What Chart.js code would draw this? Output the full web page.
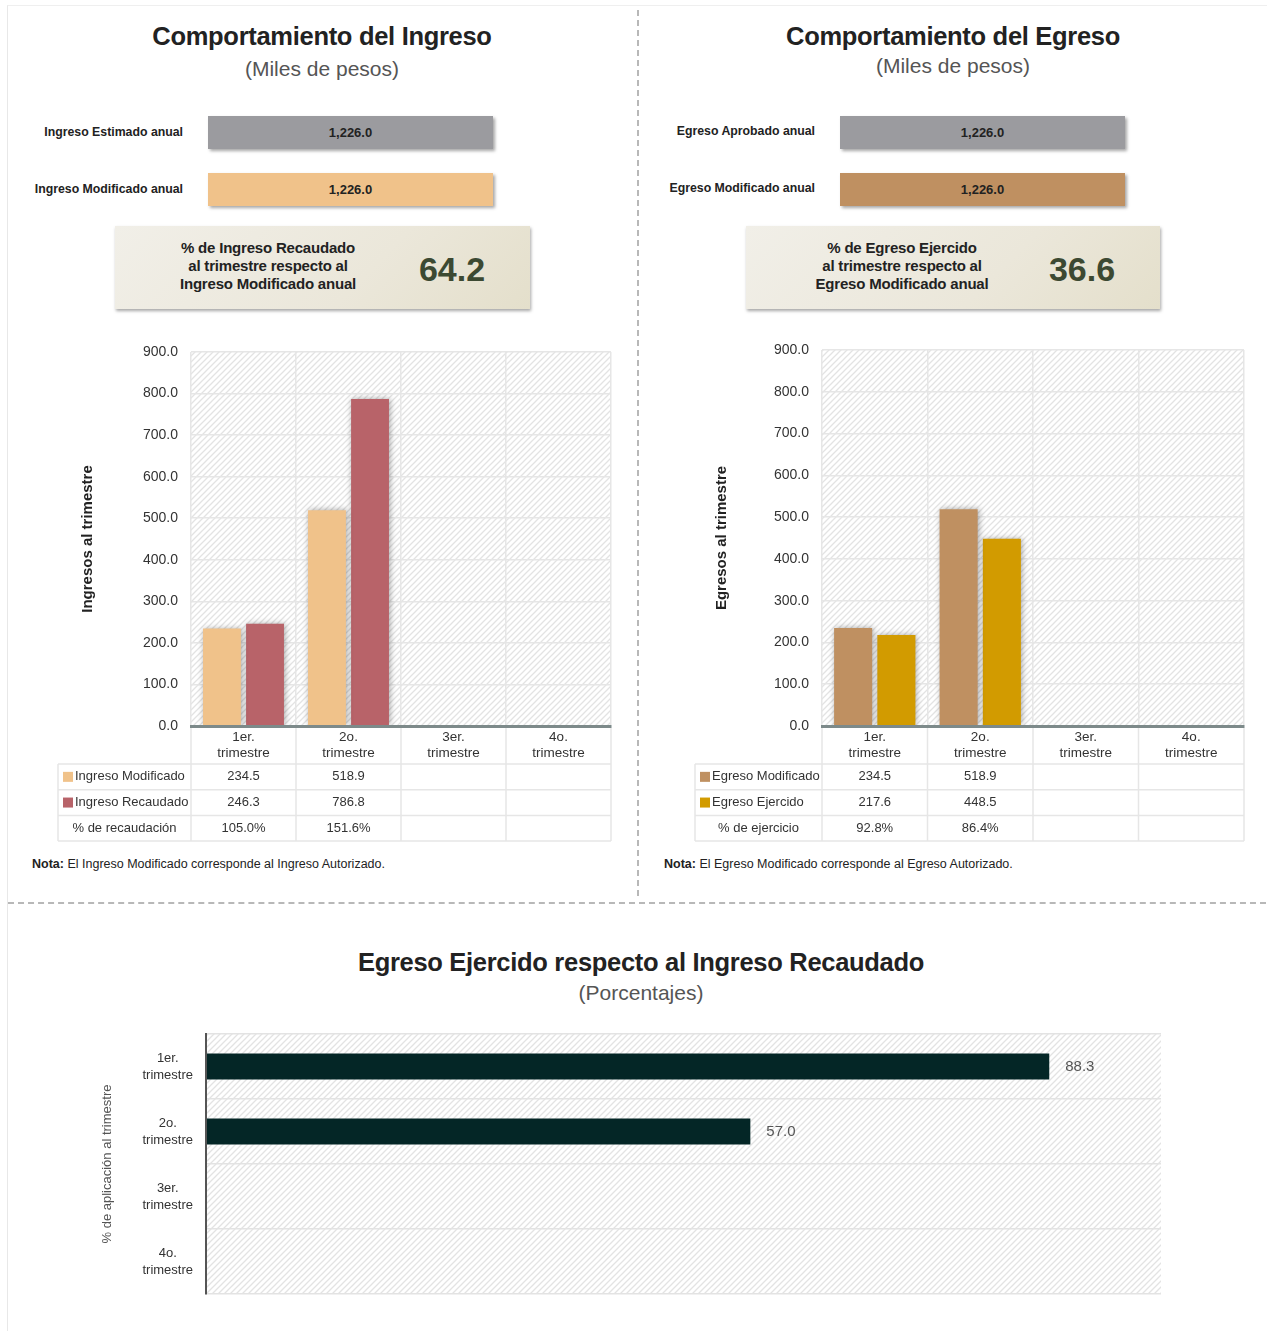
<!DOCTYPE html>
<html lang="es">
<head>
<meta charset="utf-8">
<title>Comportamiento del Ingreso y del Egreso</title>
<script src="https://cdn.jsdelivr.net/npm/chart.js@4.4.1/dist/chart.umd.min.js"></script>
<style>
    body { margin: 0; background: #fff; font-family: "Liberation Sans", Arial, sans-serif; color: #222; }
    #page { position: relative; width: 1267px; height: 1331px; overflow: hidden; }
    .card { position: absolute; left: 7px; top: 5px; width: 1262px; height: 1330px; border-left: 1px solid #e8e8e8; border-top: 1px solid #efefef; }
    .vdash { position: absolute; left: 637px; top: 10px; height: 886px; border-left: 2px dashed #b8b8b8; }
    .hdash { position: absolute; left: 8px; top: 902px; width: 1258px; border-top: 2px dashed #b8b8b8; }
    .abs { position: absolute; white-space: nowrap; }
    .title { width: 600px; text-align: center; font-weight: bold; font-size: 25.5px; line-height: 30px; color: #222; letter-spacing: -0.3px; }
    .subtitle { width: 600px; text-align: center; font-size: 21px; line-height: 24px; color: #555; }
    .annual-label { text-align: right; font-weight: bold; font-size: 12.3px; line-height: 20px; color: #222; }
    .annual-bar { height: 33px; width: 285px; line-height: 33px; text-align: center; font-weight: bold; font-size: 13px; color: #222; box-shadow: 2px 2px 3px rgba(0, 0, 0, 0.35); }
    .kpi { height: 83px; background: linear-gradient(135deg, #f1efe8 0%, #ebe7da 60%, #e4dfcb 100%); box-shadow: 1px 2px 3px rgba(0, 0, 0, 0.35); }
    .kpi-text { width: 220px; text-align: center; font-weight: bold; font-size: 15px; line-height: 18px; color: #222; letter-spacing: -0.2px; }
    .kpi-num { width: 140px; text-align: center; font-weight: bold; font-size: 34px; line-height: 40px; color: #3c4932; }
    .nota { font-size: 12.5px; line-height: 16px; color: #222; }
    .chart-box { position: absolute; }
</style>
</head>
<body>
<div id="page">
    <div class="card"></div>
    <div class="vdash"></div>
    <div class="hdash"></div>

    <div class="abs title" style="left:22px; top:21px;">Comportamiento del Ingreso</div>
    <div class="abs subtitle" style="left:22px; top:57px;">(Miles de pesos)</div>
    <div class="abs annual-label" style="left:0; width:183px; top:122px;">Ingreso Estimado anual</div>
    <div class="abs annual-label" style="left:0; width:183px; top:179px;">Ingreso Modificado anual</div>
    <div class="abs annual-bar" id="ing-est" style="left:208px; top:116px; background:#9b9b9f;"></div>
    <div class="abs annual-bar" id="ing-mod" style="left:208px; top:173px; background:#f0c28a;"></div>
    <div class="abs kpi" style="left:115px; top:226px; width:415px;"></div>
    <div class="abs kpi-text" style="left:158px; top:239px;">% de Ingreso Recaudado<br>al trimestre respecto al<br>Ingreso Modificado anual</div>
    <div class="abs kpi-num" id="ing-kpi" style="left:382px; top:249px;"></div>

    <div class="abs title" style="left:653px; top:21px;">Comportamiento del Egreso</div>
    <div class="abs subtitle" style="left:653px; top:54px;">(Miles de pesos)</div>
    <div class="abs annual-label" style="left:630px; width:185px; top:121px;">Egreso Aprobado anual</div>
    <div class="abs annual-label" style="left:630px; width:185px; top:178px;">Egreso Modificado anual</div>
    <div class="abs annual-bar" id="egr-apr" style="left:840px; top:116px; background:#9b9b9f;"></div>
    <div class="abs annual-bar" id="egr-mod" style="left:840px; top:173px; background:#bf9061;"></div>
    <div class="abs kpi" style="left:746px; top:226px; width:414px;"></div>
    <div class="abs kpi-text" style="left:792px; top:239px;">% de Egreso Ejercido<br>al trimestre respecto al<br>Egreso Modificado anual</div>
    <div class="abs kpi-num" id="egr-kpi" style="left:1012px; top:249px;"></div>

    <div class="chart-box" style="left:50px; top:335px;"><canvas id="ingresos-chart" width="570" height="515"></canvas></div>
    <div class="chart-box" style="left:682px; top:335px;"><canvas id="egresos-chart" width="570" height="515"></canvas></div>

    <div class="abs nota" style="left:32px; top:856px;"><b>Nota:</b> El Ingreso Modificado corresponde al Ingreso Autorizado.</div>
    <div class="abs nota" style="left:664px; top:856px;"><b>Nota:</b> El Egreso Modificado corresponde al Egreso Autorizado.</div>

    <div class="abs title" style="left:341px; top:947px;">Egreso Ejercido respecto al Ingreso Recaudado</div>
    <div class="abs subtitle" style="left:341px; top:981px;">(Porcentajes)</div>
    <div class="chart-box" style="left:90px; top:1020px;"><canvas id="aplicacion-chart" width="1120" height="290"></canvas></div>
</div>

<script>
const quarters = [['1er.', 'trimestre'], ['2o.', 'trimestre'], ['3er.', 'trimestre'], ['4o.', 'trimestre']];
const yTicks = [0, 100, 200, 300, 400, 500, 600, 700, 800, 900];

const ingresoEstimadoAnual = 1226.0;
const ingresoModificadoAnual = 1226.0;
const ingresoKpi = 64.2;
const ingresoModificado = [234.5, 518.9, null, null];
const ingresoRecaudado = [246.3, 786.8, null, null];
const pctRecaudacion = [105.0, 151.6, null, null];

const egresoAprobadoAnual = 1226.0;
const egresoModificadoAnual = 1226.0;
const egresoKpi = 36.6;
const egresoModificado = [234.5, 518.9, null, null];
const egresoEjercido = [217.6, 448.5, null, null];
const pctEjercicio = [92.8, 86.4, null, null];

const pctAplicacion = [88.3, 57.0, null, null];

const FONT = "'Liberation Sans', Arial, sans-serif";
const fmtMiles = v => v.toLocaleString('en-US', { minimumFractionDigits: 1, maximumFractionDigits: 1 });

document.getElementById('ing-est').textContent = fmtMiles(ingresoEstimadoAnual);
document.getElementById('ing-mod').textContent = fmtMiles(ingresoModificadoAnual);
document.getElementById('ing-kpi').textContent = ingresoKpi.toFixed(1);
document.getElementById('egr-apr').textContent = fmtMiles(egresoAprobadoAnual);
document.getElementById('egr-mod').textContent = fmtMiles(egresoModificadoAnual);
document.getElementById('egr-kpi').textContent = egresoKpi.toFixed(1);

// diagonal hatch behind the plot area
const hatchTile = (() => {
    const c = document.createElement('canvas');
    c.width = 6;
    c.height = 6;
    const g = c.getContext('2d');
    g.fillStyle = '#fff';
    g.fillRect(0, 0, 6, 6);
    g.strokeStyle = '#e3e3e3';
    g.lineWidth = 1.3;
    g.beginPath();
    g.moveTo(0, 6); g.lineTo(6, 0);
    g.moveTo(-1, 1); g.lineTo(1, -1);
    g.moveTo(5, 7); g.lineTo(7, 5);
    g.stroke();
    return c;
})();

const hatchPlugin = {
    id: 'hatch',
    beforeDraw(chart) {
        const { ctx, chartArea: a } = chart;
        ctx.save();
        ctx.fillStyle = ctx.createPattern(hatchTile, 'repeat');
        ctx.fillRect(a.left, a.top, a.right - a.left, a.bottom - a.top);
        ctx.restore();
    }
};

const barShadow = {
    id: 'barShadow',
    beforeDatasetsDraw(chart) {
        const ctx = chart.ctx;
        ctx.save();
        ctx.shadowColor = 'rgba(0, 0, 0, 0.35)';
        ctx.shadowBlur = 6;
        ctx.shadowOffsetX = 1;
        ctx.shadowOffsetY = 0;
    },
    afterDatasetsDraw(chart) {
        chart.ctx.restore();
    }
};

// table under the category axis, aligned with the x scale
const dataTable = {
    id: 'dataTable',
    afterDraw(chart, args, opts) {
        const { ctx, chartArea: a, scales: { x } } = chart;
        const n = chart.data.labels.length;
        const step = x.getPixelForValue(1) - x.getPixelForValue(0);
        const top = a.bottom + opts.labelHeight;
        const bottom = top + opts.rows.length * opts.rowHeight;
        const left = opts.left;

        ctx.save();
        ctx.strokeStyle = '#e6e6e6';
        ctx.lineWidth = 1.5;
        ctx.beginPath();
        for (let r = 0; r <= opts.rows.length; r++) {
            const y = top + r * opts.rowHeight;
            ctx.moveTo(left, y);
            ctx.lineTo(a.right, y);
        }
        ctx.moveTo(left, top);
        ctx.lineTo(left, bottom);
        for (let i = 0; i <= n; i++) {
            const xx = x.getPixelForValue(0) - step / 2 + i * step;
            ctx.moveTo(xx, a.bottom + 2);
            ctx.lineTo(xx, bottom);
        }
        ctx.stroke();

        ctx.font = '13px ' + FONT;
        ctx.textBaseline = 'middle';
        opts.rows.forEach((row, r) => {
            const cy = top + r * opts.rowHeight + opts.rowHeight / 2;
            if (row.color) {
                ctx.fillStyle = row.color;
                ctx.fillRect(left + 5, cy - 5, 10, 10);
                ctx.fillStyle = '#333';
                ctx.textAlign = 'left';
                ctx.fillText(row.label, left + 17, cy);
            } else {
                ctx.fillStyle = '#333';
                ctx.textAlign = 'center';
                ctx.fillText(row.label, (left + a.left) / 2, cy);
            }
            ctx.textAlign = 'center';
            row.values.forEach((v, i) => {
                if (v == null) return;
                ctx.fillText(row.fmt(v), x.getPixelForValue(i), cy);
            });
        });
        ctx.restore();
    }
};

const quarterChart = (id, cfg) => {
    const canvas = document.getElementById(id);
    return new Chart(canvas, {
        type: 'bar',
        data: {
            labels: quarters,
            datasets: cfg.series.map(s => ({
                label: s.label,
                data: s.data,
                backgroundColor: s.color,
                borderWidth: 0,
                categoryPercentage: 0.82,
                barPercentage: 0.88
            }))
        },
        options: {
            responsive: false,
            animation: false,
            layout: { padding: cfg.padding },
            scales: {
                x: {
                    grid: { color: '#e6e6e6', lineWidth: 1.5, offset: true, drawTicks: false },
                    border: { display: true, color: '#7d8a8a', width: 3, z: 1 },
                    ticks: { color: '#333', padding: 3, font: { family: FONT, size: 13.5, lineHeight: 1.2 }, maxRotation: 0 },
                    afterFit: s => { s.height = 38; }
                },
                y: {
                    min: 0,
                    max: 900,
                    afterBuildTicks: s => { s.ticks = yTicks.map(v => ({ value: v })); },
                    grid: { color: '#e6e6e6', lineWidth: 1.5, drawTicks: false },
                    border: { display: false },
                    ticks: { color: '#333', padding: 13, font: { family: FONT, size: 14 }, callback: v => v.toFixed(1) },
                    title: { display: true, text: cfg.yTitle, color: '#222', font: { family: FONT, size: 15, weight: 'bold' }, padding: { top: 4, bottom: 4 } },
                    afterFit: s => {
                        s.width = cfg.yWidth;
                        s.paddingTop = 0;
                        s.paddingBottom = 0;
                    }
                }
            },
            plugins: {
                legend: { display: false },
                tooltip: { enabled: false },
                dataTable: {
                    left: cfg.tableLeft,
                    labelHeight: 38,
                    rowHeight: 25.7,
                    rows: cfg.rows
                }
            }
        },
        plugins: [hatchPlugin, barShadow, dataTable]
    });
};

quarterChart('ingresos-chart', {
    yTitle: 'Ingresos al trimestre',
    yWidth: 116,
    tableLeft: 8,
    padding: { left: 25, right: 9, top: 17, bottom: 86 },
    series: [
        { label: 'Ingreso Modificado', data: ingresoModificado, color: '#f0c28a' },
        { label: 'Ingreso Recaudado', data: ingresoRecaudado, color: '#b86369' }
    ],
    rows: [
        { label: 'Ingreso Modificado', color: '#f0c28a', values: ingresoModificado, fmt: v => v.toFixed(1) },
        { label: 'Ingreso Recaudado', color: '#b86369', values: ingresoRecaudado, fmt: v => v.toFixed(1) },
        { label: '% de recaudación', color: null, values: pctRecaudacion, fmt: v => v.toFixed(1) + '%' }
    ]
});

quarterChart('egresos-chart', {
    yTitle: 'Egresos al trimestre',
    yWidth: 113,
    tableLeft: 13,
    padding: { left: 27, right: 8, top: 15, bottom: 86 },
    series: [
        { label: 'Egreso Modificado', data: egresoModificado, color: '#bf9061' },
        { label: 'Egreso Ejercido', data: egresoEjercido, color: '#d29b00' }
    ],
    rows: [
        { label: 'Egreso Modificado', color: '#bf9061', values: egresoModificado, fmt: v => v.toFixed(1) },
        { label: 'Egreso Ejercido', color: '#d29b00', values: egresoEjercido, fmt: v => v.toFixed(1) },
        { label: '% de ejercicio', color: null, values: pctEjercicio, fmt: v => v.toFixed(1) + '%' }
    ]
});

const valueLabels = {
    id: 'valueLabels',
    afterDatasetsDraw(chart) {
        const ctx = chart.ctx;
        const meta = chart.getDatasetMeta(0);
        const data = chart.data.datasets[0].data;
        ctx.save();
        ctx.font = '15px ' + FONT;
        ctx.fillStyle = '#555';
        ctx.textAlign = 'left';
        ctx.textBaseline = 'middle';
        meta.data.forEach((bar, i) => {
            if (data[i] == null) return;
            ctx.fillText(data[i].toFixed(1), bar.x + 16, bar.y);
        });
        ctx.restore();
    }
};

new Chart(document.getElementById('aplicacion-chart'), {
    type: 'bar',
    data: {
        labels: quarters,
        datasets: [{
            label: '% de aplicación',
            data: pctAplicacion,
            backgroundColor: '#042626',
            borderWidth: 0,
            categoryPercentage: 1,
            barPercentage: 0.4
        }]
    },
    options: {
        indexAxis: 'y',
        responsive: false,
        animation: false,
        layout: { padding: { left: 6, right: 49, top: 14, bottom: 16 } },
        scales: {
            x: { display: false, min: 0, max: 100 },
            y: {
                grid: { color: '#e3e3e3', lineWidth: 1.5, offset: true, drawTicks: false },
                border: { display: true, color: '#555', width: 2, z: 1 },
                ticks: { color: '#333', padding: 13, crossAlign: 'center', font: { family: FONT, size: 13, lineHeight: 1.3 } },
                title: { display: true, text: '% de aplicación al trimestre', color: '#555', font: { family: FONT, size: 13 }, padding: { top: 4, bottom: 4 } },
                afterFit: s => {
                    s.width = 110;
                    s.paddingTop = 0;
                    s.paddingBottom = 0;
                }
            }
        },
        plugins: {
            legend: { display: false },
            tooltip: { enabled: false }
        }
    },
    plugins: [hatchPlugin, valueLabels]
});
</script>
</body>
</html>
